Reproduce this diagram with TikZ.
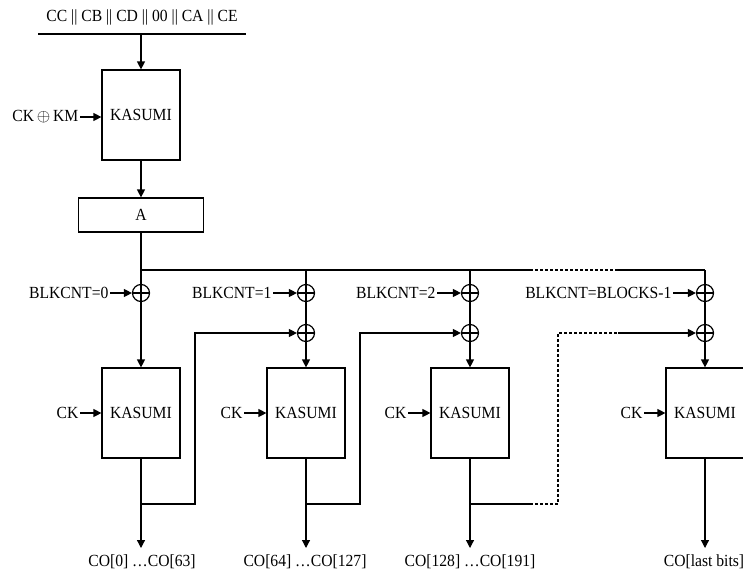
\documentclass[tikz,border=0pt]{standalone}
\usepackage{fontspec}
\setmainfont[FakeStretch=0.92]{Liberation Serif}
\usetikzlibrary{arrows.meta}
\begin{document}
\begin{tikzpicture}[x=1pt,y=-1pt,line width=1.2pt,
  >={Triangle[length=8pt,width=8pt]},
  lbl/.style={font=\fontsize{17}{20}\selectfont,inner sep=1pt},
  kbox/.style={draw,minimum width=78pt,minimum height=90pt,inner sep=0pt,font=\fontsize{17}{20}\selectfont},
  xor/.style={circle,draw,minimum size=17pt,inner sep=0pt,
    path picture={\draw[line width=1.2pt] (path picture bounding box.north)--(path picture bounding box.south)
      (path picture bounding box.west)--(path picture bounding box.east);}},
  dsh/.style={dashed,dash pattern=on 3pt off 2pt}]
\useasboundingbox (0,0) rectangle (743,573);
% top
\node[lbl] (in) at (142,17) {CC || CB || CD || 00 || CA || CE};
\coordinate (inl) at (38,34);
\coordinate (inr) at (246,34);
\coordinate (inm) at (141,34);
\draw (inl) -- (inr);
\node[kbox] (k0) at (141,115) {KASUMI};
\draw[->] (inm) -- (k0.north);
\node[lbl,anchor=east] (ckkm) at (80,117) {CK\,$\oplus$\,KM};
\draw[->] (ckkm.east) -- (ckkm.east -| k0.west);
\node[draw,minimum width=125pt,minimum height=34pt,inner sep=0pt,font=\fontsize{17}{20}\selectfont] (A) at (141,215) {A};
\draw[->] (k0) -- (A);
% bus
\coordinate (b1) at (141,270);
\coordinate (b2) at (306,270);
\coordinate (b3) at (470,270);
\coordinate (bd1) at (530,270);
\coordinate (bd2) at (618,270);
\coordinate (b4) at (705,270);
\draw (A.south) -- (b1) -- (b2) -- (b3) -- (bd1);
\draw[dsh] (bd1) -- (bd2);
\draw (bd2) -- (b4);
% xors
\node[xor] (x11) at (141,293) {};
\node[xor] (x21) at (306,293) {};
\node[xor] (x22) at (306,333) {};
\node[xor] (x31) at (470,293) {};
\node[xor] (x32) at (470,333) {};
\node[xor] (x41) at (705,293) {};
\node[xor] (x42) at (705,333) {};
\draw (b1) -- (x11.north);
\draw (b2) -- (x21.north);
\draw (b3) -- (x31.north);
\draw (b4) -- (x41.north);
\draw (x21) -- (x22);
\draw (x31) -- (x32);
\draw (x41) -- (x42);
% counter labels
\node[lbl,anchor=east] (c1) at (110,293) {BLKCNT=0};
\node[lbl,anchor=east] (c2) at (273,293) {BLKCNT=1};
\node[lbl,anchor=east] (c3) at (437,293) {BLKCNT=2};
\node[lbl,anchor=east] (c4) at (673,293) {BLKCNT=BLOCKS-1};
\draw[->] (c1.east) -- (x11.west);
\draw[->] (c2.east) -- (x21.west);
\draw[->] (c3.east) -- (x31.west);
\draw[->] (c4.east) -- (x41.west);
% kasumi boxes
\node[kbox] (k1) at (141,413) {KASUMI};
\node[kbox] (k2) at (306,413) {KASUMI};
\node[kbox] (k3) at (470,413) {KASUMI};
\node[kbox] (k4) at (705,413) {KASUMI};
\draw[->] (x11.south) -- (k1.north);
\draw[->] (x22.south) -- (k2.north);
\draw[->] (x32.south) -- (k3.north);
\draw[->] (x42.south) -- (k4.north);
\node[lbl,anchor=east] (ck1) at (80,413) {CK};
\node[lbl,anchor=east] (ck2) at (244,413) {CK};
\node[lbl,anchor=east] (ck3) at (408,413) {CK};
\node[lbl,anchor=east] (ck4) at (644,413) {CK};
\draw[->] (ck1.east) -- (k1.west);
\draw[->] (ck2.east) -- (k2.west);
\draw[->] (ck3.east) -- (k3.west);
\draw[->] (ck4.east) -- (k4.west);
% outputs
\node[lbl] (o1) at (142,562) {CO[0] \ldots CO[63]};
\node[lbl] (o2) at (305,562) {CO[64] \ldots CO[127]};
\node[lbl] (o3) at (470,562) {CO[128] \ldots CO[191]};
\node[lbl] (o4) at (704,562) {CO[last bits]};
\coordinate (t1) at (141,548);
\coordinate (t2) at (306,548);
\coordinate (t3) at (470,548);
\coordinate (t4) at (705,548);
\draw[->] (k1.south) -- (t1);
\draw[->] (k2.south) -- (t2);
\draw[->] (k3.south) -- (t3);
\draw[->] (k4.south) -- (t4);
% feedback
\coordinate (f1a) at (141,504);
\coordinate (f1b) at (195,504);
\coordinate (f1c) at (195,333);
\draw[->] (f1a) -- (f1b) -- (f1c) -- (x22.west);
\coordinate (f2a) at (306,504);
\coordinate (f2b) at (360,504);
\coordinate (f2c) at (360,333);
\draw[->] (f2a) -- (f2b) -- (f2c) -- (x32.west);
\coordinate (f3a) at (470,504);
\coordinate (f3b) at (530,504);
\coordinate (f3c) at (558,504);
\coordinate (f3d) at (558,333);
\coordinate (f3e) at (618,333);
\draw (f3a) -- (f3b);
\draw[dsh] (f3b) -- (f3c) -- (f3d) -- (f3e);
\draw[->] (f3e) -- (x42.west);
\end{tikzpicture}
\end{document}
